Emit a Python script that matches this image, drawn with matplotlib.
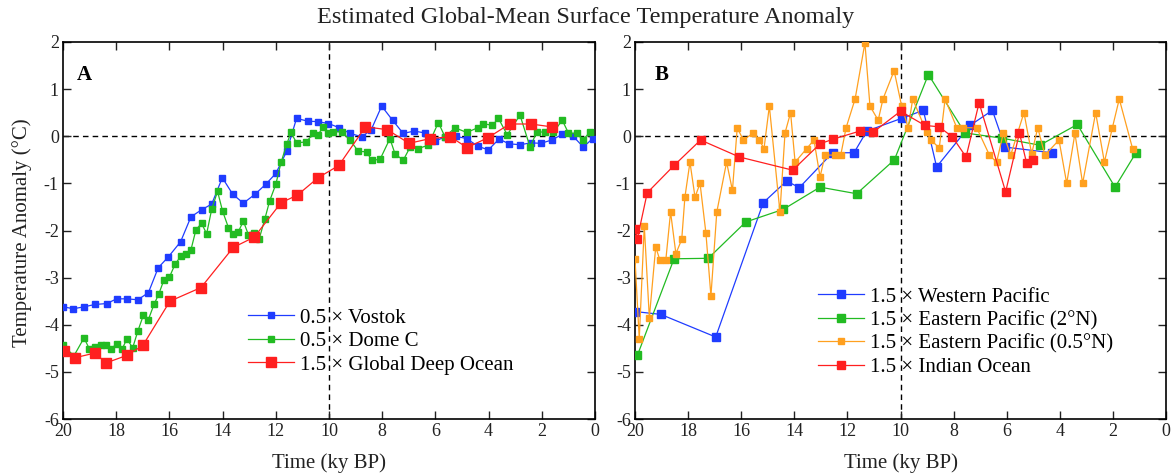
import matplotlib
matplotlib.use('Agg')
import matplotlib.pyplot as plt

plt.rcParams['font.family'] = ['Liberation Serif', 'DejaVu Serif']
plt.rcParams['axes.unicode_minus'] = False

# ---------------- Panel A data ----------------
vostok_t = [19.99, 19.61, 19.21, 18.80, 18.36, 17.98, 17.60, 17.19, 16.79, 16.42,
            16.04, 15.58, 15.19, 14.79, 14.41, 14.01, 13.62, 13.22, 12.78, 12.38,
            12.00, 11.59, 11.22, 10.80, 10.42, 10.02, 9.61, 9.21, 8.77, 8.42,
            8.02, 7.61, 7.21, 6.80, 6.39, 6.02, 5.64, 5.24, 4.82, 4.41,
            4.01, 3.61, 3.23, 2.82, 2.41, 2.03, 1.63, 1.23, 0.82, 0.44, 0.09]
vostok_v = [-3.62, -3.66, -3.62, -3.57, -3.55, -3.45, -3.45, -3.47, -3.32, -2.79,
            -2.56, -2.24, -1.71, -1.56, -1.44, -0.88, -1.23, -1.42, -1.23, -1.02,
            -0.79, -0.32, 0.38, 0.32, 0.31, 0.27, 0.18, 0.06, -0.01, 0.13,
            0.64, 0.34, 0.06, 0.11, 0.07, -0.11, -0.01, 0.00, -0.05, -0.21,
            -0.29, -0.06, -0.16, -0.18, -0.14, -0.15, -0.08, 0.04, 0.00, -0.23, -0.05]

domec_t = [19.99, 19.59, 19.21, 19.01, 18.80, 18.58, 18.38, 18.20, 17.98, 17.77,
           17.60, 17.38, 17.19, 16.98, 16.79, 16.58, 16.40, 16.20, 16.00, 15.79,
           15.58, 15.38, 15.19, 15.00, 14.79, 14.60, 14.41, 14.19, 14.00, 13.78,
           13.62, 13.41, 13.22, 13.03, 12.82, 12.62, 12.41, 12.23, 12.00, 11.80,
           11.59, 11.43, 11.22, 10.85, 10.59, 10.42, 10.22, 10.03, 9.84, 9.52,
           9.21, 8.90, 8.58, 8.40, 8.08, 7.71, 7.52, 7.21, 6.95, 6.64,
           6.27, 5.89, 5.64, 5.26, 4.82, 4.41, 4.22, 3.86, 3.63, 3.30,
           2.82, 2.44, 2.19, 1.88, 1.57, 1.23, 1.00, 0.69, 0.44, 0.19]
domec_v = [-4.44, -4.66, -4.28, -4.51, -4.47, -4.44, -4.42, -4.52, -4.40, -4.51,
           -4.30, -4.49, -4.14, -3.80, -3.89, -3.57, -3.35, -3.04, -2.99, -2.72,
           -2.55, -2.49, -2.41, -1.98, -1.85, -2.07, -1.55, -1.17, -1.59, -1.94,
           -2.08, -2.03, -1.80, -2.09, -2.05, -2.17, -1.75, -1.37, -1.02, -0.55,
           -0.17, 0.08, -0.14, -0.12, 0.06, 0.03, 0.19, 0.07, 0.10, 0.09,
           -0.08, -0.32, -0.33, -0.51, -0.49, -0.05, -0.37, -0.51, -0.23, -0.26,
           -0.19, 0.29, -0.01, 0.18, 0.08, 0.18, 0.27, 0.23, 0.38, 0.03,
           0.45, -0.23, 0.09, 0.09, 0.08, 0.34, 0.07, 0.06, -0.07, 0.09]

deep_t = [19.97, 19.55, 18.80, 18.38, 17.60, 17.00, 15.98, 14.81, 13.60, 12.81,
          11.80, 11.19, 10.41, 9.63, 8.63, 7.81, 6.99, 6.20, 5.44, 4.81,
          4.02, 3.21, 2.42, 1.63]
deep_v = [-4.55, -4.70, -4.60, -4.81, -4.65, -4.44, -3.50, -3.21, -2.36, -2.14,
          -1.41, -1.25, -0.88, -0.62, 0.20, 0.14, -0.15, -0.05, -0.01, -0.24,
          -0.03, 0.26, 0.26, 0.20]

# ---------------- Panel B data ----------------
wpac_t = [20.0, 19.03, 16.96, 15.17, 14.29, 13.81, 12.56, 11.75, 11.27, 9.96,
          9.14, 8.64, 7.38, 6.54, 6.06, 4.31]
wpac_v = [-3.72, -3.78, -4.26, -1.41, -0.95, -1.09, -0.35, -0.35, 0.11, 0.38,
          0.55, -0.65, 0.23, 0.55, -0.23, -0.35]

epac2_t = [19.91, 18.53, 17.24, 15.83, 14.41, 13.03, 11.65, 10.23, 8.95, 7.57,
           6.19, 4.75, 3.34, 1.92, 1.13]
epac2_v = [-4.65, -2.60, -2.59, -1.82, -1.55, -1.08, -1.22, -0.50, 1.31, 0.07,
           -0.04, -0.19, 0.25, -1.08, -0.35]

epac05_t = [20.0, 19.84, 19.65, 19.46, 19.22, 19.06, 18.84, 18.66, 18.46, 18.24,
            18.12, 17.93, 17.74, 17.55, 17.33, 17.14, 16.92, 16.55, 16.33, 16.15,
            15.92, 15.54, 15.32, 15.14, 14.94, 14.54, 14.35, 14.14, 13.97, 13.53,
            13.26, 13.03, 12.84, 12.47, 12.25, 12.05, 11.71, 11.34, 11.15, 10.84,
            10.66, 10.24, 9.96, 9.71, 9.54, 9.01, 8.85, 8.54, 8.32, 7.88,
            7.63, 7.13, 6.65, 6.38, 6.13, 5.85, 5.35, 5.06, 4.83, 4.56,
            4.03, 3.74, 3.43, 3.14, 2.65, 2.32, 2.02, 1.76, 1.26]
epac05_v = [-2.60, -4.30, -1.90, -3.85, -2.35, -2.63, -2.63, -1.61, -2.49, -2.19,
            -1.29, -0.55, -1.29, -1.00, -2.05, -3.39, -1.61, -0.55, -1.15, 0.18,
            -0.08, 0.07, -0.08, -0.26, 0.64, -1.61, 0.07, 0.50, -0.55, -0.26,
            -0.08, -0.86, -0.40, -0.40, -0.40, 0.18, 0.79, 1.98, 0.64, 0.34,
            0.79, 1.39, 0.65, 0.18, 0.79, 0.08, -0.08, -0.25, 0.79, 0.18,
            0.18, 0.18, -0.40, -0.55, 0.06, -0.40, 0.50, -0.37, 0.18, -0.40,
            -0.08, -1.00, 0.06, -1.00, 0.50, -0.55, 0.18, 0.79, -0.26]

indian_t = [20.0, 19.91, 19.54, 18.53, 17.53, 16.07, 14.06, 13.03, 12.53, 11.53,
            11.02, 10.00, 9.08, 8.55, 8.05, 7.53, 7.04, 6.04, 5.52, 5.25, 5.00]
indian_v = [-1.97, -2.17, -1.20, -0.62, -0.08, -0.44, -0.72, -0.16, -0.06, 0.11,
            0.09, 0.53, 0.23, 0.20, -0.01, -0.44, 0.71, -1.18, 0.07, -0.57, -0.50]

x_ticks = list(range(20, -1, -2))
y_ticks = list(range(-6, 3))

BLUE = '#1f3cff'
GREEN = '#22bb22'
RED = '#ff1f1f'
ORANGE = '#ffa01f'

W, H = 1171, 475
fig = plt.figure(figsize=(W / 100, H / 100), dpi=100)
axA = fig.add_axes([63 / W, 1 - 419 / H, 532 / W, 377 / H])
axB = fig.add_axes([635 / W, 1 - 419 / H, 531 / W, 377 / H])

for ax in (axA, axB):
    ax.set_xlim(20, 0)
    ax.set_ylim(-6, 2)
    ax.set_xticks(x_ticks)
    ax.set_yticks(y_ticks)
    ax.axhline(0, color='black', lw=1.0, ls=(0, (4, 3)), zorder=1)
    ax.axvline(10, color='black', lw=1.0, ls=(0, (4, 3)), zorder=1)
    ax.tick_params(direction='in', top=True, right=True, length=6, width=1,
                   labelsize=13, pad=3, colors='#222222')
    for s in ax.spines.values():
        s.set_linewidth(1.2)
    fig.text((ax.get_position().x0 + ax.get_position().x1) / 2, 1 - 463 / H,
             'Time (ky BP)', ha='center', va='center', fontsize=15, color='#222222')

lw = 0.9
axA.plot(vostok_t, vostok_v, '-s', color=BLUE, lw=lw, ms=5, label='0.5 \u00d7 Vostok', zorder=3)
axA.plot(domec_t, domec_v, '-s', color=GREEN, lw=lw, ms=5, label='0.5 \u00d7 Dome C', zorder=3)
axA.plot(deep_t, deep_v, '-s', color=RED, lw=lw, ms=6.5, label='1.5 \u00d7 Global Deep Ocean', zorder=4)

axB.plot(wpac_t, wpac_v, '-s', color=BLUE, lw=lw, ms=6, label='1.5 \u00d7 Western Pacific', zorder=3)
axB.plot(epac2_t, epac2_v, '-s', color=GREEN, lw=lw, ms=6, label='1.5 \u00d7 Eastern Pacific (2\u00b0N)', zorder=3)
axB.plot(epac05_t, epac05_v, '-s', color=ORANGE, lw=lw, ms=5, label='1.5 \u00d7 Eastern Pacific (0.5\u00b0N)', zorder=3)
axB.plot(indian_t, indian_v, '-s', color=RED, lw=lw, ms=6, label='1.5 \u00d7 Indian Ocean', zorder=4)

legkw = dict(frameon=False, fontsize=15, handlelength=2.2, handletextpad=0.3,
             labelspacing=0.19, borderpad=0, borderaxespad=0, loc='upper left')
axA.legend(bbox_to_anchor=((248 - 63) / 532, (419 - 308) / 377), **legkw)
axB.legend(bbox_to_anchor=((818 - 635) / 531, (419 - 287) / 377), **legkw)

axA.text(0.041, 0.912, 'A', transform=axA.transAxes, ha='center', va='center',
         fontsize=15, fontweight='bold')
axB.text(0.051, 0.912, 'B', transform=axB.transAxes, ha='center', va='center',
         fontsize=15, fontweight='bold')

fig.text(0.5, 1 - 18 / H, 'Estimated Global-Mean Surface Temperature Anomaly',
         ha='center', va='center', fontsize=17.5, color='#222222')
fig.text(22 / W, 1 - 233 / H, 'Temperature Anomaly (\u00b0C)', rotation=90,
         ha='center', va='center', fontsize=15, color='#222222')

fig.savefig('out.png', dpi=100)
